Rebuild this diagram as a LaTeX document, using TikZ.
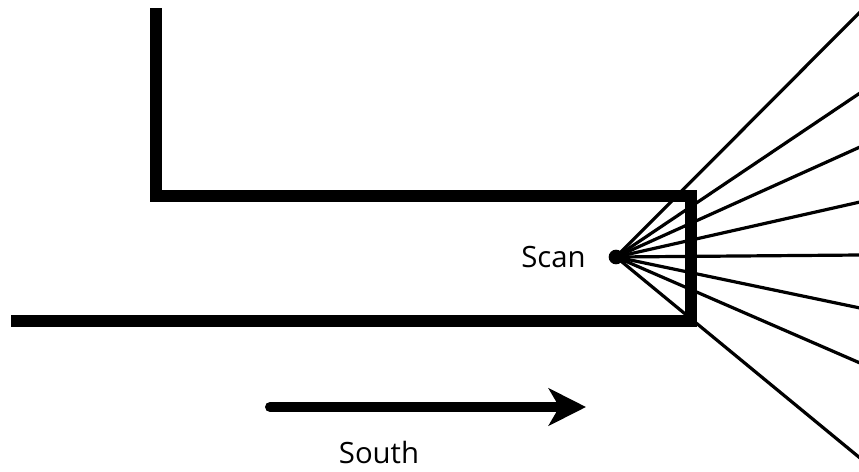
\documentclass[tikz,border=0pt]{standalone}
\usepackage{fontspec}
\setmainfont{Open Sans}
\usetikzlibrary{arrows.meta}
\tikzset{
  wall/.style={line width=9pt, line cap=rect},
  ray/.style={line width=2.4pt},
  label/.style={font=\fontsize{22}{26}\selectfont, inner sep=0pt}
}

\begin{document}
\begin{tikzpicture}[x=0.75pt, y=-0.75pt]
  \useasboundingbox (0,0) rectangle (859,471);

  % Corridor walls
  \draw[wall] (156,14) -- (156,196) -- (691,196) -- (691,321) -- (17,321);

  % Scan point and its beams
  \node[circle, fill=black, minimum size=11pt, inner sep=0pt] (scan) at (616,257) {};
  \node[label, anchor=base east] (scanlabel) at (586,267) {Scan};
  \foreach \y [count=\i] in {12,93,147,202,255,308,363,458} {
    \coordinate (beam\i) at (860,\y);
    \draw[ray] (scan.center) -- (beam\i);
  }

  % Direction arrow
  \coordinate (arrstart) at (270,407);
  \coordinate (arrend) at (586,407);
  \draw[line width=7.5pt, line cap=round, -{Stealth[length=28pt, width=28pt, inset=8pt]}] (arrstart) -- (arrend);
  \node[label, anchor=base] (south) at (379,463) {South};
\end{tikzpicture}
\end{document}
